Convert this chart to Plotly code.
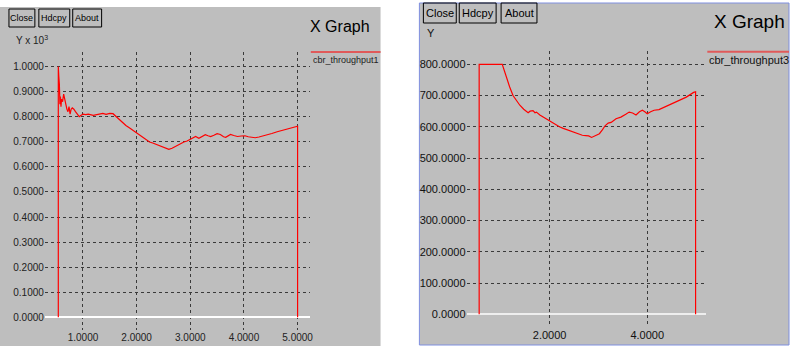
import plotly.graph_objects as go

W, H = 792, 346

# ---------------- data ----------------
# Left graph: cbr_throughput1 (values shown in units of 10^3)
x1 = [0.54, 0.54, 0.55, 0.56, 0.57, 0.58, 0.59, 0.60, 0.62, 0.64, 0.66, 0.68, 0.70,
      0.72, 0.74, 0.76, 0.78, 0.80, 0.83, 0.86, 0.90, 0.93, 0.96, 1.00, 1.05, 1.10,
      1.19, 1.25, 1.32, 1.37, 1.43, 1.50, 1.56, 1.62, 1.68, 1.74, 1.80, 1.87, 1.94,
      2.00, 2.08, 2.17, 2.24, 2.30, 2.36, 2.42, 2.48, 2.54, 2.60, 2.66, 2.73, 2.80,
      2.88, 2.94, 3.00, 3.06, 3.10, 3.16, 3.22, 3.28, 3.33, 3.38, 3.44, 3.50, 3.56,
      3.62, 3.66, 3.71, 3.75, 3.81, 3.88, 3.95, 4.02, 4.08, 4.14, 4.21, 4.28, 4.35,
      4.42, 4.52, 4.62, 4.72, 4.82, 4.91, 5.00, 5.00]
y1 = [0.0, 1.000, 0.96, 0.93, 0.85, 0.88, 0.84, 0.87, 0.86, 0.89, 0.87, 0.84, 0.83,
      0.82, 0.84, 0.81, 0.83, 0.835, 0.83, 0.82, 0.81, 0.80, 0.805, 0.81, 0.808, 0.81,
      0.805, 0.808, 0.812, 0.813, 0.809, 0.813, 0.812, 0.800, 0.788, 0.776, 0.765,
      0.755, 0.744, 0.736, 0.722, 0.708, 0.699, 0.695, 0.690, 0.686, 0.680, 0.674,
      0.670, 0.674, 0.683, 0.690, 0.699, 0.703, 0.709, 0.716, 0.721, 0.714, 0.722,
      0.728, 0.724, 0.721, 0.726, 0.732, 0.729, 0.720, 0.718, 0.724, 0.729, 0.725,
      0.721, 0.723, 0.724, 0.720, 0.717, 0.716, 0.719, 0.724, 0.728, 0.733, 0.740,
      0.745, 0.751, 0.756, 0.762, 0.0]

# Right graph: cbr_throughput3
x3 = [0.557, 0.557, 1.03, 1.07, 1.115, 1.18, 1.25, 1.32, 1.39, 1.47, 1.52, 1.56, 1.60,
      1.66, 1.70, 1.73, 1.80, 1.90, 2.00, 2.10, 2.20, 2.28, 2.33, 2.40, 2.53, 2.62,
      2.67, 2.74, 2.80, 2.86, 2.94, 3.02, 3.08, 3.14, 3.20, 3.26, 3.36, 3.42, 3.46,
      3.56, 3.63, 3.70, 3.77, 3.84, 3.90, 3.95, 4.00, 4.07, 4.14, 4.24, 4.31, 4.38,
      4.50, 4.65, 4.80, 4.95, 4.99, 4.99]
y3 = [0, 800, 800, 780, 758, 728, 700, 683, 669, 656, 648, 645, 650,
      652, 645, 647, 638, 628, 619, 609, 600, 595, 592, 588, 581, 576,
      573, 572, 571, 566, 572, 578, 590, 604, 612, 614, 626, 628, 631,
      640, 647, 644, 638, 648, 653, 648, 642, 648, 653, 655, 660, 665,
      672, 682, 695, 710, 712, 0]

x1_ticks = [1, 2, 3, 4, 5]
y1_ticks = [0.0, 0.1, 0.2, 0.3, 0.4, 0.5, 0.6, 0.7, 0.8, 0.9, 1.0]
x3_ticks = [2, 4]
y3_ticks = [0, 100, 200, 300, 400, 500, 600, 700, 800]

# ---------------- helpers ----------------
GRAY = "#bebebe"
FONT = "Liberation Sans"


def px(x):
    return x / W


def py(y):
    return 1 - y / H


fig = go.Figure()
fig.add_trace(go.Scatter(x=x1, y=y1, mode="lines", line=dict(color="#ff0000", width=1.2),
                         xaxis="x", yaxis="y", showlegend=False, hoverinfo="skip"))
fig.add_trace(go.Scatter(x=x3, y=y3, mode="lines", line=dict(color="#ff0000", width=1.2),
                         xaxis="x2", yaxis="y2", showlegend=False, hoverinfo="skip"))

grid = dict(showgrid=True, gridcolor="#3a3a3a", griddash="dot", gridwidth=1,
            showline=False, ticks="", color="#000000")

fig.update_layout(
    width=W, height=H, margin=dict(l=0, r=0, t=0, b=0),
    paper_bgcolor="white", plot_bgcolor=GRAY,
    xaxis=dict(domain=[px(45), px(311)], range=[0.289, 5.228], tickvals=x1_ticks,
               ticktext=[f"{v:.4f}" for v in x1_ticks], zeroline=False,
               tickfont=dict(family=FONT, size=10, color="#222"), anchor="y", **grid),
    yaxis=dict(domain=[py(330), py(52)], range=[-0.0506, 1.058], tickvals=y1_ticks,
               ticktext=[f"{v:.4f}" for v in y1_ticks], zeroline=True, zerolinecolor="white",
               zerolinewidth=2, tickfont=dict(family=FONT, size=10, color="#222"),
               anchor="x", **grid),
    xaxis2=dict(domain=[px(468.3), px(709)], range=[0.298, 5.21], tickvals=x3_ticks,
                ticktext=[f"{v:.4f}" for v in x3_ticks], zeroline=False,
                tickfont=dict(family=FONT, size=11, color="#111"), anchor="y2", **grid),
    yaxis2=dict(domain=[py(326.7), py(50.7)], range=[-39.7, 843.5], tickvals=y3_ticks,
                ticktext=[f"{v:.4f}" for v in y3_ticks], zeroline=True, zerolinecolor="#eeeeee",
                zerolinewidth=2, tickfont=dict(family=FONT, size=11, color="#111"),
                anchor="x2", **grid),
)

shapes = []
ann = []

# panel backgrounds
shapes.append(dict(type="rect", xref="paper", yref="paper", x0=px(0), x1=px(382),
                   y0=py(346), y1=py(7), fillcolor=GRAY, line=dict(width=0), layer="below"))
shapes.append(dict(type="rect", xref="paper", yref="paper", x0=px(421), x1=px(792),
                   y0=py(345), y1=py(3), fillcolor=GRAY,
                   line=dict(width=1, color="#7f8fdf"), layer="below"))


def button(x0, x1, y0, y1, label, size):
    shapes.append(dict(type="rect", xref="paper", yref="paper", x0=px(x0), x1=px(x1),
                       y0=py(y1), y1=py(y0), line=dict(color="#000", width=1)))
    ann.append(dict(x=px((x0 + x1) / 2), y=py((y0 + y1) / 2), xref="paper", yref="paper",
                    text=label, showarrow=False, xanchor="center", yanchor="middle",
                    font=dict(family=FONT, size=size, color="#000")))


# left panel
button(9, 35, 9, 27, "Close", 9)
button(39, 70, 9, 27, "Hdcpy", 9)
button(73, 102, 9, 27, "About", 9)
ann.append(dict(x=px(14), y=py(40), xref="paper", yref="paper", text="Y x 10<sup>3</sup>",
                showarrow=False, xanchor="left", yanchor="middle",
                font=dict(family=FONT, size=10, color="#222")))
ann.append(dict(x=px(341), y=py(26), xref="paper", yref="paper", text="X Graph",
                showarrow=False, xanchor="center", yanchor="middle",
                font=dict(family=FONT, size=16, color="#000")))
shapes.append(dict(type="line", xref="paper", yref="paper", x0=px(312), x1=px(382),
                   y0=py(52), y1=py(52), line=dict(color="#e05a5a", width=2)))
ann.append(dict(x=px(312), y=py(60), xref="paper", yref="paper", text="cbr_throughput1",
                showarrow=False, xanchor="left", yanchor="middle",
                font=dict(family=FONT, size=9, color="#222")))

# right panel
button(425, 458, 3, 23, "Close", 11)
button(461, 498, 3, 23, "Hdcpy", 11)
button(503, 539, 3, 23, "About", 11)
ann.append(dict(x=px(427), y=py(33), xref="paper", yref="paper", text="Y",
                showarrow=False, xanchor="left", yanchor="middle",
                font=dict(family=FONT, size=11, color="#111")))
ann.append(dict(x=px(752), y=py(21), xref="paper", yref="paper", text="X Graph",
                showarrow=False, xanchor="center", yanchor="middle",
                font=dict(family=FONT, size=19, color="#000")))
shapes.append(dict(type="line", xref="paper", yref="paper", x0=px(710), x1=px(792),
                   y0=py(51.7), y1=py(51.7), line=dict(color="#e05a5a", width=2)))
ann.append(dict(x=px(710), y=py(60), xref="paper", yref="paper", text="cbr_throughput3",
                showarrow=False, xanchor="left", yanchor="middle",
                font=dict(family=FONT, size=11, color="#111")))

fig.update_layout(shapes=shapes, annotations=ann)
fig.write_html("out.html", config={"displayModeBar": False},
               post_script="document.body.style.margin='0';document.body.style.overflow='hidden';")
